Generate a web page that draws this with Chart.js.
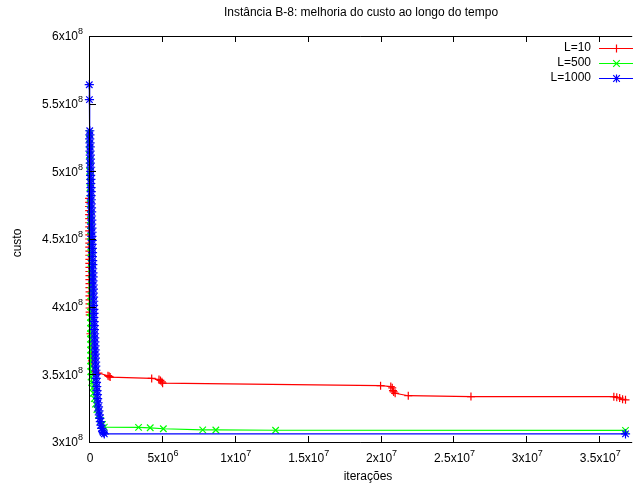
<!DOCTYPE html>
<html>
<head>
<meta charset="utf-8">
<script src="https://cdn.jsdelivr.net/npm/chart.js@4.4.1/dist/chart.umd.min.js"></script>
<style>
  html, body { margin: 0; padding: 0; background: #fff; }
  #chart { display: block; }
</style>
</head>
<body>
<canvas id="chart" width="638" height="486"></canvas>
<script>
// L=10 run (iteration, cost)
const l10X = [0.005e6, 0.01e6, 0.005e6, 0.012e6, 0.008e6, 0.015e6, 0.01e6, 0.018e6, 0.012e6, 0.02e6,
    0.015e6, 0.022e6, 0.018e6, 0.025e6, 0.02e6, 0.028e6, 0.022e6, 0.03e6, 0.025e6, 0.032e6,
    0.028e6, 0.035e6, 0.03e6, 0.038e6, 0.032e6, 0.04e6, 0.035e6, 0.042e6, 0.045e6, 0.05e6,
    0.1e6, 0.2e6, 0.3e6, 0.65e6, 1.3e6, 1.38e6, 1.45e6, 4.3e6, 4.8e6, 4.9e6,
    5.0e6, 5.05e6, 2.0e7, 2.07e7, 2.08e7, 2.085e7, 2.09e7, 2.1e7, 2.19e7, 2.62e7,
    3.6e7, 3.62e7, 3.64e7, 3.66e7, 3.68e7];
const l10Y = [4.80e8, 4.77e8, 4.74e8, 4.71e8, 4.68e8, 4.65e8, 4.62e8, 4.59e8, 4.56e8, 4.53e8,
    4.50e8, 4.47e8, 4.44e8, 4.41e8, 4.38e8, 4.35e8, 4.32e8, 4.29e8, 4.26e8, 4.23e8,
    4.20e8, 4.17e8, 4.14e8, 4.11e8, 4.08e8, 4.05e8, 4.02e8, 3.99e8, 3.96e8, 3.94e8,
    3.80e8, 3.60e8, 3.52e8, 3.51e8, 3.49e8, 3.485e8, 3.48e8, 3.47e8, 3.462e8, 3.455e8,
    3.445e8, 3.435e8, 3.416e8, 3.41e8, 3.40e8, 3.38e8, 3.37e8, 3.36e8, 3.342e8, 3.336e8,
    3.335e8, 3.33e8, 3.325e8, 3.315e8, 3.312e8];

// L=500 run
const l500X = [0.03e6, 0.04e6, 0.03e6, 0.05e6, 0.04e6, 0.06e6, 0.05e6, 0.07e6, 0.06e6, 0.08e6,
    0.07e6, 0.09e6, 0.08e6, 0.1e6, 0.09e6, 0.11e6, 0.1e6, 0.12e6, 0.11e6, 0.13e6,
    0.12e6, 0.14e6, 0.13e6, 0.15e6, 0.14e6, 0.16e6, 0.15e6, 0.17e6, 0.16e6, 0.15e6,
    0.14e6, 0.13e6, 0.12e6, 0.11e6, 0.1e6, 0.11e6, 0.1e6, 0.11e6, 0.1e6, 0.12e6,
    0.11e6, 0.12e6, 0.11e6, 0.13e6, 0.12e6, 0.14e6, 0.18e6, 0.24e6, 0.3e6, 0.36e6,
    0.44e6, 0.54e6, 0.66e6, 0.8e6, 0.93e6, 1.05e6, 3.4e6, 4.2e6, 5.1e6, 7.8e6,
    8.7e6, 1.28e7, 3.68e7];
const l500Y = [5.28e8, 5.24e8, 5.20e8, 5.16e8, 5.12e8, 5.08e8, 5.04e8, 5.00e8, 4.96e8, 4.92e8,
    4.88e8, 4.84e8, 4.80e8, 4.76e8, 4.72e8, 4.68e8, 4.64e8, 4.60e8, 4.56e8, 4.52e8,
    4.48e8, 4.44e8, 4.40e8, 4.36e8, 4.32e8, 4.28e8, 4.24e8, 4.20e8, 4.16e8, 4.12e8,
    4.08e8, 4.04e8, 4.00e8, 3.96e8, 3.92e8, 3.88e8, 3.84e8, 3.80e8, 3.76e8, 3.72e8,
    3.68e8, 3.64e8, 3.60e8, 3.56e8, 3.52e8, 3.48e8, 3.44e8, 3.40e8, 3.36e8, 3.32e8,
    3.28e8, 3.24e8, 3.20e8, 3.16e8, 3.13e8, 3.11e8, 3.108e8, 3.105e8, 3.098e8, 3.09e8,
    3.089e8, 3.087e8, 3.086e8];

// L=1000 run
const l1000X = [0.02e6, 0.03e6, 0.05e6, 0.06e6, 0.05e6, 0.07e6, 0.08e6, 0.07e6, 0.09e6, 0.1e6,
    0.09e6, 0.11e6, 0.12e6, 0.11e6, 0.13e6, 0.12e6, 0.14e6, 0.15e6, 0.14e6, 0.16e6,
    0.15e6, 0.17e6, 0.18e6, 0.17e6, 0.19e6, 0.18e6, 0.2e6, 0.21e6, 0.2e6, 0.22e6,
    0.21e6, 0.23e6, 0.24e6, 0.23e6, 0.25e6, 0.26e6, 0.25e6, 0.27e6, 0.28e6, 0.27e6,
    0.29e6, 0.3e6, 0.29e6, 0.31e6, 0.32e6, 0.31e6, 0.33e6, 0.34e6, 0.33e6, 0.35e6,
    0.36e6, 0.37e6, 0.38e6, 0.39e6, 0.4e6, 0.41e6, 0.42e6, 0.43e6, 0.44e6, 0.45e6,
    0.46e6, 0.47e6, 0.48e6, 0.49e6, 0.51e6, 0.53e6, 0.55e6, 0.57e6, 0.59e6, 0.62e6,
    0.65e6, 0.68e6, 0.71e6, 0.74e6, 0.78e6, 0.82e6, 0.87e6, 0.93e6, 0.98e6, 1.05e6,
    3.68e7];
const l1000Y = [5.64e8, 5.53e8, 5.30e8, 5.27e8, 5.24e8, 5.21e8, 5.18e8, 5.15e8, 5.12e8, 5.09e8,
    5.06e8, 5.03e8, 5.00e8, 4.97e8, 4.94e8, 4.91e8, 4.88e8, 4.85e8, 4.82e8, 4.79e8,
    4.76e8, 4.73e8, 4.70e8, 4.67e8, 4.64e8, 4.61e8, 4.58e8, 4.55e8, 4.52e8, 4.49e8,
    4.46e8, 4.43e8, 4.40e8, 4.37e8, 4.34e8, 4.31e8, 4.28e8, 4.25e8, 4.22e8, 4.19e8,
    4.16e8, 4.13e8, 4.10e8, 4.07e8, 4.04e8, 4.01e8, 3.98e8, 3.95e8, 3.92e8, 3.89e8,
    3.86e8, 3.83e8, 3.80e8, 3.77e8, 3.74e8, 3.71e8, 3.68e8, 3.65e8, 3.62e8, 3.59e8,
    3.56e8, 3.53e8, 3.50e8, 3.47e8, 3.44e8, 3.41e8, 3.38e8, 3.35e8, 3.32e8, 3.29e8,
    3.26e8, 3.23e8, 3.20e8, 3.175e8, 3.15e8, 3.125e8, 3.10e8, 3.08e8, 3.07e8, 3.06e8,
    3.06e8];

const seriesNames = ["L=10", "L=500", "L=1000"];
const xTicks = [0, 5e6, 1e7, 1.5e7, 2e7, 2.5e7, 3e7, 3.5e7];
const xTickLabels = ["0", "5x10^6", "1x10^7", "1.5x10^7", "2x10^7", "2.5x10^7", "3x10^7", "3.5x10^7"];
const yTicks = [3e8, 3.5e8, 4e8, 4.5e8, 5e8, 5.5e8, 6e8];
const yTickLabels = ["3x10^8", "3.5x10^8", "4x10^8", "4.5x10^8", "5x10^8", "5.5x10^8", "6x10^8"];

const FONT = '"Liberation Sans", Arial, sans-serif';

function pts(xs, ys) {
    return xs.map((x, i) => ({ x: x, y: ys[i] }));
}

// text like "5x10^6" with a raised exponent
function powText(ctx, label, x, y, align) {
    const parts = label.split("^");
    ctx.font = "12px " + FONT;
    const wb = ctx.measureText(parts[0]).width;
    ctx.font = "9px " + FONT;
    const we = parts[1] ? ctx.measureText(parts[1]).width : 0;
    const w = wb + we;
    let x0 = x;
    if (align === "center") x0 = x - w / 2;
    if (align === "right") x0 = x - w;
    ctx.textAlign = "left";
    ctx.textBaseline = "middle";
    ctx.font = "12px " + FONT;
    ctx.fillText(parts[0], x0, y);
    if (parts[1]) {
        ctx.font = "9px " + FONT;
        ctx.fillText(parts[1], x0 + wb, y - 5);
    }
}

function marker(ctx, style, x, y) {
    ctx.beginPath();
    if (style === "cross" || style === "star") {
        ctx.moveTo(x - 4, y); ctx.lineTo(x + 4, y);
        ctx.moveTo(x, y - 4); ctx.lineTo(x, y + 4);
    }
    if (style === "crossRot" || style === "star") {
        ctx.moveTo(x - 3.3, y - 3.3); ctx.lineTo(x + 3.3, y + 3.3);
        ctx.moveTo(x - 3.3, y + 3.3); ctx.lineTo(x + 3.3, y - 3.3);
    }
    ctx.stroke();
}

const gnuplotFrame = {
    id: "gnuplotFrame",
    afterDatasetsDraw(chart) {
        const ctx = chart.ctx;
        const a = chart.chartArea;
        const xs = chart.scales.x, ys = chart.scales.y;
        ctx.save();
        ctx.strokeStyle = "#000";
        ctx.lineWidth = 1;

        // border (left, bottom, top)
        ctx.beginPath();
        ctx.moveTo(a.right, a.top + 0.5);
        ctx.lineTo(a.left + 0.5, a.top + 0.5);
        ctx.lineTo(a.left + 0.5, a.bottom + 0.5);
        ctx.lineTo(a.right, a.bottom + 0.5);
        ctx.stroke();

        // inward ticks
        ctx.beginPath();
        yTicks.forEach(v => {
            const py = Math.round(ys.getPixelForValue(v)) + 0.5;
            ctx.moveTo(a.left, py); ctx.lineTo(a.left + 7, py);
        });
        xTicks.forEach(v => {
            const px = Math.round(xs.getPixelForValue(v)) + 0.5;
            ctx.moveTo(px, a.bottom); ctx.lineTo(px, a.bottom - 6);
            ctx.moveTo(px, a.top); ctx.lineTo(px, a.top + 6);
        });
        ctx.stroke();

        // tick labels
        ctx.fillStyle = "#000";
        yTicks.forEach((v, i) => powText(ctx, yTickLabels[i], 83, ys.getPixelForValue(v) + 1, "right"));
        xTicks.forEach((v, i) => powText(ctx, xTickLabels[i], xs.getPixelForValue(v) + 1, 459, "center"));

        // title and axis titles
        ctx.font = "12px " + FONT;
        ctx.textAlign = "center";
        ctx.textBaseline = "middle";
        ctx.fillText("Instância B-8: melhoria do custo ao longo do tempo", 361, 13);
        ctx.fillText("iterações", 368, 477);
        ctx.save();
        ctx.translate(18, 243);
        ctx.rotate(-Math.PI / 2);
        ctx.fillText("custo", 0, 0);
        ctx.restore();

        // key
        chart.data.datasets.forEach((ds, i) => {
            const ly = 48 + i * 15;
            ctx.fillStyle = "#000";
            ctx.font = "12px " + FONT;
            ctx.textAlign = "right";
            ctx.textBaseline = "middle";
            ctx.fillText(seriesNames[i], 591, ly);
            ctx.strokeStyle = ds.borderColor;
            ctx.lineWidth = 1.2;
            ctx.beginPath();
            ctx.moveTo(599, ly + 0.5); ctx.lineTo(633, ly + 0.5);
            ctx.stroke();
            marker(ctx, ds.pointStyle, 616.5, ly + 0.5);
        });
        ctx.restore();
    }
};

function series(i, xs, ys, color, style, r) {
    return {
        label: seriesNames[i],
        data: pts(xs, ys),
        order: 3 - i,
        borderColor: color,
        backgroundColor: color,
        borderWidth: 1.2,
        pointStyle: style,
        pointRadius: r,
        pointBorderWidth: 1.2,
        pointBorderColor: color,
        pointHoverRadius: r,
        tension: 0,
        clip: false
    };
}

new Chart(document.getElementById("chart").getContext("2d"), {
    type: "line",
    data: {
        datasets: [
            series(0, l10X, l10Y, "#ff0000", "cross", 4),
            series(1, l500X, l500Y, "#00ff00", "crossRot", 4.6),
            series(2, l1000X, l1000Y, "#0000ff", "star", 4.6)
        ]
    },
    options: {
        responsive: false,
        animation: false,
        events: [],
        layout: { padding: { top: 36, right: 0, bottom: 0, left: 0 } },
        plugins: { legend: { display: false }, tooltip: { enabled: false }, title: { display: false } },
        scales: {
            x: {
                type: "linear",
                min: 0,
                max: 3.726e7,
                ticks: { display: false },
                grid: { display: false },
                border: { display: false },
                afterFit: s => { s.height = 44; }
            },
            y: {
                type: "linear",
                min: 3e8,
                max: 6e8,
                ticks: { display: false },
                grid: { display: false },
                border: { display: false },
                afterFit: s => { s.width = 89; }
            }
        }
    },
    plugins: [gnuplotFrame]
});
</script>
</body>
</html>
